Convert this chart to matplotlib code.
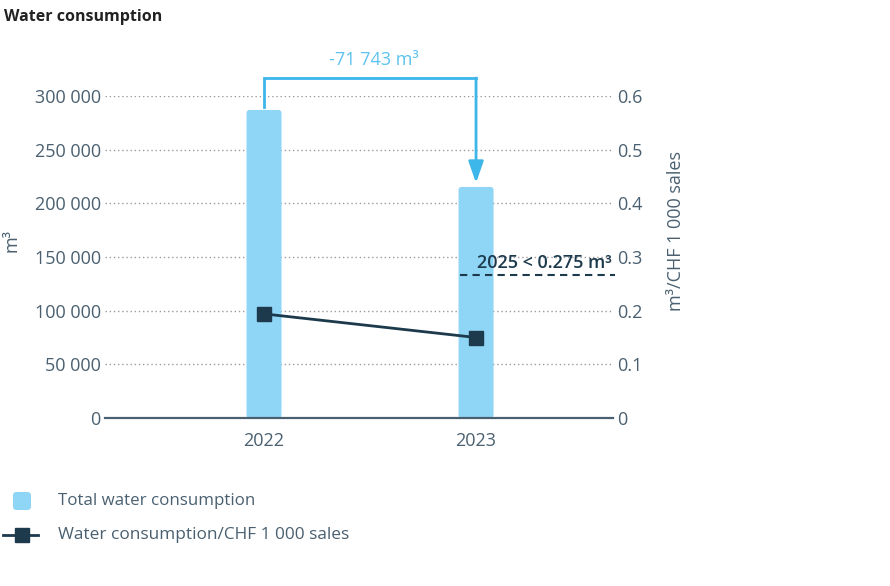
import matplotlib
matplotlib.use("Agg")
import matplotlib.pyplot as plt
from matplotlib.patches import FancyBboxPatch
from matplotlib.lines import Line2D

plt.rcParams['font.family'] = ['Open Sans', 'DejaVu Sans']

# ---- data ----
years = ["2022", "2023"]
total_water = [287000, 215257]          # m3
water_per_sales = [0.194, 0.150]        # m3 / CHF 1 000 sales
change_label = "-71 743 m³"
target_label = "2025 < 0.275 m³"
target_value = 0.267                    # line position
left_ticks = [0, 50000, 100000, 150000, 200000, 250000, 300000]
left_ticklabels = ["0", "50 000", "100 000", "150 000", "200 000", "250 000", "300 000"]
right_ticks = [0, 0.1, 0.2, 0.3, 0.4, 0.5, 0.6]
right_ticklabels = ["0", "0.1", "0.2", "0.3", "0.4", "0.5", "0.6"]
series_names = ["Total water consumption", "Water consumption/CHF 1 000 sales"]

# ---- style ----
TXT = "#4a6070"
BAR = "#8fd5f5"
LINE = "#1c3a4c"
BRACKET = "#3db6ea"
BRACKET_TXT = "#5cc3ef"
GRID = "#9a9a9a"

W, H = 890, 586
fig = plt.figure(figsize=(W / 100, H / 100), dpi=100)
L, R, B, T = 105, 613, 418, 96
ax = fig.add_axes([L / W, 1 - B / H, (R - L) / W, (B - T) / H])

x = list(range(len(years)))
ax.set_xlim(-0.75, 1.646)
ax.set_ylim(0, 300000)

# bars with rounded corners
bars = ax.bar(x, total_water, width=0.165, color=BAR, zorder=2)
px_x = (1.646 + 0.75) / (R - L)
px_y = 300000 / (B - T)
for rect in bars:
    rect.set_visible(False)
    fb = FancyBboxPatch((rect.get_x(), rect.get_y()), rect.get_width(), rect.get_height(),
                        boxstyle=f"round,pad=0,rounding_size={3 * px_x}",
                        mutation_aspect=px_y / px_x,
                        facecolor=BAR, edgecolor="none", zorder=2)
    ax.add_patch(fb)

# grid
for v in left_ticks[1:]:
    ax.axhline(v, color=GRID, lw=1.0, ls=(0, (1, 2)), zorder=1)

ax.set_yticks(left_ticks)
ax.set_yticklabels(left_ticklabels)
ax.set_xticks(x)
ax.set_xticklabels(years)
ax.tick_params(axis='y', length=0, pad=3, labelsize=13, labelcolor=TXT)
ax.tick_params(axis='x', length=0, pad=10, labelsize=13, labelcolor=TXT)
for s in ["top", "right", "left"]:
    ax.spines[s].set_visible(False)
ax.spines["bottom"].set_color(TXT)
ax.spines["bottom"].set_linewidth(1.6)
ax.spines["bottom"].set_zorder(3)
ax.set_ylabel("m³", color=TXT, fontsize=13)
ax.yaxis.set_label_coords((20 - L) / (R - L), (B - 240) / (B - T))

# bracket annotation
gap = 3 * px_y
ytop = (B - 78) * px_y
ax.plot([x[0], x[0], x[1]], [total_water[0] + gap, ytop, ytop], color=BRACKET,
        lw=2.0, clip_on=False, zorder=4, solid_joinstyle='miter')
ax.annotate("", xy=(x[1], total_water[1] + 4 * px_y), xytext=(x[1], ytop),
            arrowprops=dict(arrowstyle="-|>,head_length=1.0,head_width=0.35", color=BRACKET,
                            lw=2.0, shrinkA=0, shrinkB=0, mutation_scale=13),
            annotation_clip=False, zorder=4)
ax.text((x[0] + x[1]) / 2 + 0.02, (B - 60) * px_y, change_label, color=BRACKET_TXT,
        fontsize=13, ha="center", va="center", clip_on=False)

# twin axis
ax2 = ax.twinx()
ax2.set_ylim(0, 0.6)
ax2.set_yticks(right_ticks)
ax2.set_yticklabels(right_ticklabels)
ax2.tick_params(axis='y', length=0, pad=3, labelsize=13, labelcolor=TXT)
for s in ax2.spines.values():
    s.set_visible(False)
ax2.set_ylabel("m³/CHF 1 000 sales", color=TXT, fontsize=13)
ax2.yaxis.set_label_coords(1 + 54 / (R - L), (B - 231) / (B - T))

ax2.plot(x, water_per_sales, color=LINE, lw=2.0, marker="s", markersize=10,
         markerfacecolor=LINE, markeredgecolor=LINE, zorder=5)

ax2.plot([0.925, 1.656], [target_value, target_value], color=LINE, lw=1.5,
         ls=(0, (3.5, 2.5)), clip_on=False, zorder=5)
ax2.text(1.64, 0.2795, target_label, color=LINE, fontsize=13, fontweight="semibold",
         ha="right", va="baseline", clip_on=False)

# title
fig.text(4 / W, 1 - 17 / H, "Water consumption", fontsize=11.5, fontweight="bold",
         color="#222222", ha="left", va="center")

# legend (manual)
fig.patches.append(FancyBboxPatch((13 / W, 1 - 510 / H), 18 / W, 18 / H,
                                  boxstyle="round,pad=0,rounding_size=0.004",
                                  transform=fig.transFigure, facecolor=BAR,
                                  edgecolor="none", mutation_aspect=W / H))
fig.text(58 / W, 1 - 501 / H, series_names[0], fontsize=12.2, color=TXT, ha="left", va="center")
fig.add_artist(Line2D([3 / W, 38 / W], [1 - 535 / H, 1 - 535 / H], transform=fig.transFigure,
                      color=LINE, lw=2.0))
fig.add_artist(Line2D([22 / W], [1 - 535 / H], transform=fig.transFigure, color=LINE,
                      marker="s", markersize=10))
fig.text(58 / W, 1 - 535 / H, series_names[1], fontsize=12.4, color=TXT, ha="left", va="center")

fig.savefig("out.png", dpi=100)
